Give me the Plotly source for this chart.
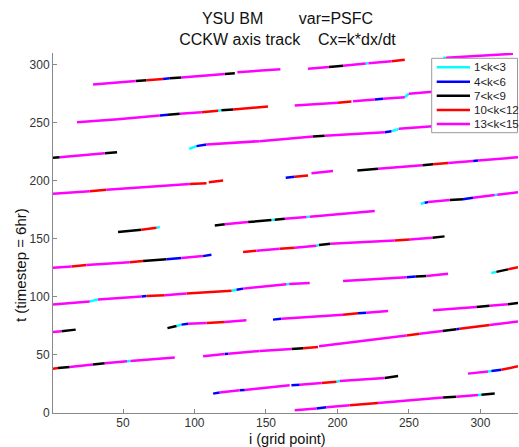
import plotly.graph_objects as go

# k-classes (legend labels) and their colours
class_labels = ["1<k<3", "4<k<6", "7<k<9", "10<k<12", "13<k<15"]
class_colors = ["#00FFFF", "#0000FF", "#000000", "#FF0000", "#FF00FF"]

# x ticks / y ticks
x_ticks = [50, 100, 150, 200, 250, 300]
y_ticks = [0, 50, 100, 150, 200, 250, 300]

# Track break points: grid point i, timestep t, class index of each piece
x_A1 = [29.0, 58.9, 66.4, 78.0, 82.7, 90.9, 121.2, 128.2]
t_A1 = [282.9, 285.8, 286.6, 287.7, 288.2, 289.0, 292.0, 292.6]
k_A1 = [4, 2, 3, 1, 2, 4, 2]

x_A2 = [130.0, 160.1]
t_A2 = [293.5, 296.0]
k_A2 = [4]

x_A3 = [179.4, 194.1, 203.9, 219.8, 221.7, 237.8, 247.1]
t_A3 = [296.4, 298.0, 299.1, 300.9, 301.1, 302.9, 304.1]
k_A3 = [4, 2, 4, 0, 4, 3]

x_A4 = [273.9, 276.0, 322.8]
t_A4 = [305.8, 306.0, 309.3]
k_A4 = [0, 4]

x_B = [17.8, 46.5, 75.7, 81.5, 89.7, 104.9, 116.5, 118.8, 127.0, 151.4]
t_B = [250.4, 253.0, 256.2, 256.8, 257.7, 259.0, 260.2, 260.8, 261.4, 263.9]
k_B = [4, 4, 1, 2, 4, 3, 0, 2, 3]

x_C = [1.0, 5.7, 37.2, 45.8]
t_C = [219.8, 220.2, 223.6, 224.6]
k_C = [2, 4, 2]

x_D = [96.2, 101.4, 108.4, 145.6, 182.9, 191.1, 233.1, 237.8, 241.3, 243.0, 300.0]
t_D = [227.5, 229.8, 231.2, 234.1, 238.1, 238.7, 241.8, 242.7, 243.9, 244.7, 250.0]
k_D = [0, 1, 4, 4, 2, 4, 1, 0, 0, 4]

x_E1 = [170.1, 200.4, 209.8]
t_E1 = [264.8, 267.1, 268.2]
k_E1 = [4, 3]

x_E2 = [210.9, 226.1, 231.9, 247.1, 249.9, 300.0]
t_E2 = [268.5, 270.0, 270.6, 271.9, 274.9, 280.0]
k_E2 = [4, 1, 4, 0, 4]

x_G1 = [163.8, 170.1, 179.4]
t_G1 = [202.6, 203.4, 204.6]
k_G1 = [1, 3]

x_G2 = [181.8, 196.9]
t_G2 = [206.5, 208.3]
k_G2 = [4]

x_H = [213.9, 228.4, 259.4, 266.9, 277.4, 294.9, 298.4, 326.3]
t_H = [208.9, 210.3, 213.4, 214.2, 215.2, 217.0, 217.4, 220.2]
k_H = [2, 4, 2, 3, 4, 1, 4]

x_I = [258.3, 261.0, 263.4, 278.5, 287.8, 294.8, 310.0, 311.8, 326.3]
t_I = [180.2, 181.1, 181.6, 183.4, 184.1, 185.3, 187.7, 187.9, 190.1]
k_I = [0, 1, 4, 2, 1, 4, 0, 4]

x_N1 = [1.0, 26.7, 38.4, 96.7, 108.4]
t_N1 = [188.8, 191.0, 192.3, 197.1, 197.9]
k_N1 = [4, 3, 4, 3]

x_N2 = [110.0, 120.0]
t_N2 = [198.8, 200.3]
k_N2 = [3]

x_O = [46.5, 62.9, 73.4, 75.7]
t_O = [155.8, 157.8, 159.6, 160.1]
k_O = [2, 3, 0]

x_P = [114.2, 121.2, 137.5, 153.8, 156.1, 163.2, 178.4, 180.6, 226.1]
t_P = [161.4, 162.5, 164.4, 166.1, 166.4, 167.2, 168.8, 169.1, 174.0]
k_P = [2, 4, 2, 0, 2, 4, 0, 4]

x_Q = [1.0, 14.0, 24.4, 54.7, 64.0, 80.4, 90.9, 105.9, 111.8]
t_Q = [125.1, 126.2, 127.4, 129.9, 130.8, 132.3, 133.4, 135.1, 136.3]
k_Q = [4, 3, 4, 3, 2, 1, 4, 1]

x_R = [134.0, 143.3, 159.6, 170.1, 185.3, 187.1, 195.1, 240.1, 250.6, 266.4, 274.9]
t_R = [138.6, 139.8, 141.5, 142.3, 144.1, 144.6, 145.8, 148.6, 149.5, 150.9, 152.1]
k_R = [3, 4, 3, 4, 0, 2, 4, 3, 4, 2]

x_T = [1.0, 26.7, 32.5, 62.9, 66.4, 79.2, 94.4, 125.9, 129.4, 134.0, 164.3, 166.2, 180.6]
t_T = [93.5, 96.1, 97.8, 100.4, 100.7, 101.5, 102.8, 105.3, 106.2, 107.1, 110.8, 111.0, 111.9]
k_T = [4, 0, 4, 1, 3, 4, 3, 0, 1, 4, 0, 4]

x_M = [203.9, 248.3, 254.8, 262.2, 277.4]
t_M = [113.6, 117.0, 117.6, 117.9, 120.0]
k_M = [4, 1, 2, 4]

x_S = [307.7, 311.2, 319.3, 326.3]
t_S = [120.5, 121.5, 123.7, 125.6]
k_S = [0, 2, 3]

x_U = [1.0, 6.9, 16.9]
t_U = [69.7, 70.3, 71.8]
k_U = [4, 2]

x_V = [81.1, 87.4, 90.9, 95.5, 108.4, 121.2, 136.3]
t_V = [73.1, 74.9, 76.1, 76.9, 77.5, 78.3, 79.8]
k_V = [2, 0, 1, 4, 3, 4]

x_W = [154.9, 160.8, 203.9, 214.4, 220.3, 235.4]
t_W = [80.4, 81.2, 84.7, 85.8, 86.4, 87.8]
k_W = [1, 4, 3, 1, 4]

x_BE = [266.9, 297.2, 306.5, 319.3, 326.3]
t_BE = [88.4, 91.2, 92.3, 93.7, 94.7]
k_BE = [4, 2, 4, 2]

x_X = [1.0, 4.5, 12.7, 29.0, 37.2, 52.8, 55.2, 86.2]
t_X = [38.2, 38.7, 39.6, 41.7, 42.8, 44.5, 44.7, 47.7]
k_X = [3, 2, 4, 2, 4, 0, 4]

x_Y1 = [106.0, 121.2, 123.5, 145.6, 167.8, 175.9, 186.4]
t_Y1 = [48.8, 50.8, 51.1, 53.4, 55.1, 55.7, 56.8]
k_Y1 = [4, 1, 4, 4, 2, 3]

x_Y2 = [187.1, 248.3, 257.5, 273.4, 283.2, 285.5, 306.5, 326.3]
t_Y2 = [57.4, 66.8, 68.2, 70.7, 72.2, 72.6, 75.7, 78.9]
k_Y2 = [4, 3, 4, 2, 1, 3, 4]

x_Z1 = [113.0, 117.6, 131.6, 135.2, 166.6]
t_Z1 = [16.7, 17.6, 19.5, 19.8, 23.8]
k_Z1 = [1, 4, 1, 4]

x_Z2 = [167.8, 173.6, 188.8, 199.3, 201.6, 233.1, 242.4]
t_Z2 = [23.8, 24.4, 25.8, 27.0, 27.5, 30.1, 31.8]
k_Z2 = [1, 4, 3, 0, 4, 2]

x_AA = [170.1, 185.3, 192.3, 208.6, 228.4, 273.9, 283.2, 298.3, 300.7, 310.0]
t_AA = [2.3, 3.8, 4.9, 6.6, 8.6, 13.3, 14.1, 15.5, 15.8, 16.7]
k_AA = [4, 1, 4, 3, 4, 2, 4, 0, 2]

x_RP = [291.3, 305.3, 307.7, 314.7, 326.3]
t_RP = [33.9, 35.7, 36.1, 37.2, 40.2]
k_RP = [4, 0, 1, 3]

tracks = [
    (x_A1, t_A1, k_A1), (x_A2, t_A2, k_A2), (x_A3, t_A3, k_A3), (x_A4, t_A4, k_A4),
    (x_B, t_B, k_B), (x_C, t_C, k_C), (x_D, t_D, k_D), (x_E1, t_E1, k_E1),
    (x_E2, t_E2, k_E2), (x_G1, t_G1, k_G1), (x_G2, t_G2, k_G2), (x_H, t_H, k_H),
    (x_I, t_I, k_I), (x_N1, t_N1, k_N1), (x_N2, t_N2, k_N2), (x_O, t_O, k_O),
    (x_P, t_P, k_P), (x_Q, t_Q, k_Q), (x_R, t_R, k_R), (x_T, t_T, k_T),
    (x_M, t_M, k_M), (x_S, t_S, k_S), (x_U, t_U, k_U), (x_V, t_V, k_V),
    (x_W, t_W, k_W), (x_BE, t_BE, k_BE), (x_X, t_X, k_X), (x_Y1, t_Y1, k_Y1),
    (x_Y2, t_Y2, k_Y2), (x_Z1, t_Z1, k_Z1), (x_Z2, t_Z2, k_Z2), (x_AA, t_AA, k_AA),
    (x_RP, t_RP, k_RP),
]

FONT = "Liberation Sans, Arial, sans-serif"

fig = go.Figure()
for ci, (lab, col) in enumerate(zip(class_labels, class_colors)):
    xs, ts = [], []
    for tx, tt, tk in tracks:
        for j, kk in enumerate(tk):
            if kk == ci:
                xs += [tx[j], tx[j + 1], None]
                ts += [tt[j], tt[j + 1], None]
    fig.add_trace(go.Scatter(x=xs, y=ts, mode="lines", name=lab,
                             line=dict(color=col, width=2.5),
                             showlegend=False, hoverinfo="skip"))

# axis geometry
L, R, T, B = 53, 1, 53, 34
W, H = 519, 447
pw, ph = W - L - R, H - T - B

def px_x(p):
    return (p - L) / pw

def px_y(p):
    return (H - B - p) / ph

# legend box (drawn manually to match MATLAB compact legend)
shapes = [dict(type="rect", xref="paper", yref="paper",
               x0=px_x(431.7), x1=px_x(517.5), y0=px_y(132.7), y1=px_y(58.3),
               fillcolor="white", line=dict(color="#999999", width=1), layer="above")]
annotations = []
rows_py = [67.3, 81.7, 95.7, 110.0, 124.0]
for lab, col, py in zip(class_labels, class_colors, rows_py):
    shapes.append(dict(type="line", xref="paper", yref="paper",
                       x0=px_x(436.7), x1=px_x(470.0), y0=px_y(py), y1=px_y(py),
                       line=dict(color=col, width=2.5), layer="above"))
    annotations.append(dict(text=lab, xref="paper", yref="paper",
                            x=px_x(471.5), y=px_y(py), xanchor="left", yanchor="middle",
                            showarrow=False, font=dict(family=FONT, size=11.5, color="#222222")))

annotations.append(dict(text="i (grid point)", xref="paper", yref="paper",
                        x=px_x(287), y=px_y(438.5), xanchor="center", yanchor="middle",
                        showarrow=False, font=dict(family=FONT, size=14.5, color="#111111")))
annotations.append(dict(text="t (timestep = 6hr)", xref="paper", yref="paper",
                        x=px_x(20), y=px_y(265), xanchor="center", yanchor="middle",
                        textangle=-90, showarrow=False,
                        font=dict(family=FONT, size=15, color="#111111")))

nb = "\u00a0"
fig.update_layout(
    width=W, height=H,
    margin=dict(l=L, r=R, t=T, b=B),
    paper_bgcolor="white", plot_bgcolor="white",
    title=dict(text="YSU BM" + nb * 8 + "var=PSFC<br>CCKW axis track" + nb * 4 + "Cx=k*dx/dt",
               x=px_x(287.5), xref="paper", xanchor="center",
               y=1 - 24 / H, yref="container", yanchor="top",
               font=dict(family=FONT, size=16, color="#111111")),
    shapes=shapes, annotations=annotations,
    showlegend=False,
)
axis_common = dict(showgrid=False, zeroline=False, showline=True, linecolor="#888888",
                   linewidth=1, ticks="inside", ticklen=4, tickcolor="#888888",
                   tickfont=dict(family=FONT, size=12, color="#333333"), mirror=False)
fig.update_xaxes(range=[1, 326.3], tickvals=x_ticks, ticklabelstandoff=-1, **axis_common)
fig.update_yaxes(range=[0, 310], tickvals=y_ticks, **axis_common)

fig.write_html("out.html", config={"displayModeBar": False},
               post_script="document.body.style.margin='0';document.body.style.padding='0';")
